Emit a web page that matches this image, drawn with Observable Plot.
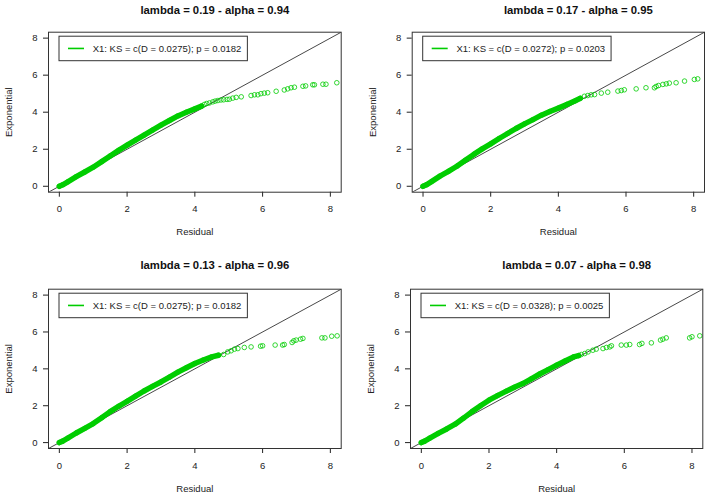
<!DOCTYPE html>
<html><head><meta charset="utf-8">
<script src="https://cdn.jsdelivr.net/npm/d3@7"></script>
<script src="https://cdn.jsdelivr.net/npm/@observablehq/plot@0.6"></script>
<style>
body{margin:0;background:#fff;}
#wrap{position:relative;width:708px;height:496px;overflow:hidden;background:#fff;}
#wrap svg{position:absolute;}
</style>
</head><body><div id="wrap"></div>
<script>
// ---- data ----
const titles = [
  "lambda = 0.19 - alpha = 0.94",
  "lambda = 0.17 - alpha = 0.95",
  "lambda = 0.13 - alpha = 0.96",
  "lambda = 0.07 - alpha = 0.98"
];
const legendLabels = [
  "X1: KS = c(D = 0.0275); p = 0.0182",
  "X1: KS = c(D = 0.0272); p = 0.0203",
  "X1: KS = c(D = 0.0275); p = 0.0182",
  "X1: KS = c(D = 0.0328); p = 0.0025"
];
const xLabel = "Residual";
const yLabel = "Exponential";
const tickValues = [0, 2, 4, 6, 8];
const abline = {intercept: 0, slope: 1};

// panel 1
const p1DenseResidual    = [0, 0.1, 0.25, 0.5, 0.75, 1, 1.25, 1.5, 1.75, 2, 2.25, 2.5, 2.75, 3, 3.25, 3.5, 3.75, 4, 4.2];
const p1DenseExponential = [0, 0.08, 0.24, 0.52, 0.77, 1.03, 1.33, 1.64, 1.94, 2.22, 2.49, 2.76, 3.03, 3.3, 3.55, 3.8, 4.0, 4.18, 4.33];
const p1TailResidual     = [4.28, 4.35, 4.43, 4.53, 4.6, 4.68, 4.77, 4.85, 4.95, 5.02, 5.12, 5.22, 5.37, 5.66, 5.76, 5.86, 5.95, 6.05, 6.15, 6.4, 6.64, 6.74, 6.84, 6.94, 7.19, 7.27, 7.48, 7.53, 7.78, 7.87, 8.19];
const p1TailExponential  = [4.42, 4.47, 4.5, 4.56, 4.6, 4.63, 4.66, 4.67, 4.69, 4.7, 4.76, 4.8, 4.83, 4.9, 4.94, 4.94, 5.0, 5.03, 5.05, 5.13, 5.2, 5.26, 5.32, 5.35, 5.4, 5.42, 5.48, 5.48, 5.51, 5.51, 5.59];
// panel 2
const p2DenseResidual    = [0, 0.1, 0.25, 0.5, 0.75, 1, 1.25, 1.5, 1.75, 2, 2.25, 2.5, 2.75, 3, 3.25, 3.5, 3.75, 4, 4.25, 4.5, 4.65];
const p2DenseExponential = [0, 0.08, 0.25, 0.55, 0.8, 1.08, 1.4, 1.72, 2.02, 2.29, 2.58, 2.85, 3.12, 3.37, 3.6, 3.84, 4.04, 4.22, 4.42, 4.62, 4.75];
const p2TailResidual     = [4.77, 4.87, 4.97, 5.07, 5.27, 5.46, 5.76, 5.86, 5.95, 6.3, 6.59, 6.84, 6.89, 6.96, 7.09, 7.19, 7.28, 7.48, 7.73, 8.02, 8.12];
const p2TailExponential  = [4.86, 4.9, 4.94, 4.95, 5.03, 5.08, 5.14, 5.17, 5.21, 5.26, 5.32, 5.32, 5.39, 5.44, 5.5, 5.53, 5.57, 5.59, 5.68, 5.77, 5.8];
// panel 3
const p3DenseResidual    = [0, 0.1, 0.25, 0.5, 0.75, 1, 1.25, 1.5, 1.75, 2, 2.25, 2.5, 2.75, 3, 3.25, 3.5, 3.75, 4, 4.25, 4.5, 4.7];
const p3DenseExponential = [0, 0.08, 0.24, 0.52, 0.77, 1.03, 1.35, 1.68, 1.97, 2.24, 2.52, 2.8, 3.05, 3.29, 3.55, 3.82, 4.06, 4.29, 4.48, 4.65, 4.74];
const p3TailResidual     = [4.85, 4.97, 5.07, 5.17, 5.27, 5.46, 5.66, 5.94, 6.0, 6.37, 6.59, 6.64, 6.87, 6.92, 6.99, 7.12, 7.19, 7.75, 7.84, 8.04, 8.2];
const p3TailExponential  = [4.78, 4.92, 4.98, 5.07, 5.1, 5.16, 5.19, 5.23, 5.25, 5.29, 5.29, 5.32, 5.43, 5.52, 5.56, 5.61, 5.65, 5.68, 5.68, 5.77, 5.79];
// panel 4
const p4DenseResidual    = [0, 0.1, 0.25, 0.5, 0.75, 1, 1.25, 1.5, 1.75, 2, 2.25, 2.5, 2.75, 3, 3.25, 3.5, 3.75, 4, 4.25, 4.5, 4.65];
const p4DenseExponential = [0, 0.08, 0.24, 0.5, 0.74, 1.0, 1.33, 1.68, 2.0, 2.3, 2.55, 2.78, 3.0, 3.2, 3.46, 3.72, 3.96, 4.2, 4.43, 4.65, 4.72];
const p4TailResidual     = [4.73, 4.83, 4.93, 5.07, 5.17, 5.37, 5.47, 5.57, 5.62, 5.91, 6.06, 6.16, 6.45, 6.52, 6.8, 7.07, 7.14, 7.24, 7.93, 8.0, 8.23];
const p4TailExponential  = [4.78, 4.83, 4.92, 5.01, 5.07, 5.1, 5.16, 5.19, 5.25, 5.29, 5.29, 5.32, 5.32, 5.38, 5.41, 5.56, 5.61, 5.68, 5.68, 5.74, 5.79];

// ---- layout ----
const green = "#00CD00";
const domain = [-0.32, 8.32];
const panels = [
  {left: 0,   top: 0,   mL: 48,   mR: 13.3, mT: 31.7, mB: 56.3, titleY: 9.5,
   dx: p1DenseResidual, dy: p1DenseExponential, tx: p1TailResidual, ty: p1TailExponential},
  {left: 354, top: 0,   mL: 57.7, mR: 4,    mT: 31.7, mB: 56.3, titleY: 9.5,
   dx: p2DenseResidual, dy: p2DenseExponential, tx: p2TailResidual, ty: p2TailExponential},
  {left: 0,   top: 248, mL: 48,   mR: 13.3, mT: 40.7, mB: 48,   titleY: 16.7,
   dx: p3DenseResidual, dy: p3DenseExponential, tx: p3TailResidual, ty: p3TailExponential},
  {left: 354, top: 248, mL: 56,   mR: 5.7,  mT: 40.7, mB: 48,   titleY: 16.7,
   dx: p4DenseResidual, dy: p4DenseExponential, tx: p4TailResidual, ty: p4TailExponential}
];

const wrap = document.getElementById("wrap");
const font = "'Liberation Sans', Arial, Helvetica, sans-serif";

panels.forEach((cfg, k) => {
  const dense = cfg.dx.map((x, i) => ({x, y: cfg.dy[i]}));
  const tail = cfg.tx.map((x, i) => ({x, y: cfg.ty[i]}));
  const diag = domain.map(v => ({x: v, y: abline.intercept + abline.slope * v}));
  const svg = Plot.plot({
    width: 354, height: 248,
    marginLeft: cfg.mL, marginRight: cfg.mR, marginTop: cfg.mT, marginBottom: cfg.mB,
    style: {fontFamily: font, fontSize: "9.5px", color: "#222", background: "transparent"},
    x: {domain, ticks: tickValues, tickSize: 5, tickPadding: 8.5, label: null},
    y: {domain, ticks: tickValues, tickSize: 5, tickPadding: 6, label: null},
    marks: [
      Plot.line(diag, {x: "x", y: "y", stroke: "#333", strokeWidth: 0.9, clip: true}),
      Plot.line(dense, {x: "x", y: "y", stroke: green, strokeWidth: 5.5, strokeLinecap: "round", strokeLinejoin: "round"}),
      Plot.dot(dense.concat(tail), {x: "x", y: "y", r: 2.3, stroke: green, strokeWidth: 0.8, fill: "none"}),
      Plot.frame({stroke: "#333", strokeWidth: 1}),
      Plot.text([titles[k]], {text: d => d, frameAnchor: "top", dx: 20, dy: cfg.titleY - cfg.mT,
        fontWeight: "bold", fontSize: 11.3, lineAnchor: "middle", fill: "#111"}),
      Plot.text([yLabel], {text: d => d, frameAnchor: "left", dx: -39.5, rotate: -90,
        textAnchor: "middle", lineAnchor: "middle"}),
      Plot.text([xLabel], {text: d => d, frameAnchor: "bottom", dy: 40, lineAnchor: "middle"})
    ]
  });
  svg.style.left = cfg.left + "px";
  svg.style.top = cfg.top + "px";
  wrap.appendChild(svg);

  // legend box (R-style)
  const lx = cfg.mL + 11, ly = cfg.mT + 4.5, lh = 24.5;
  const g = d3.select(svg).append("g").attr("text-anchor", "start");
  const rect = g.append("rect").attr("x", lx).attr("y", ly).attr("height", lh)
    .attr("fill", "white").attr("stroke", "#333").attr("stroke-width", 1);
  g.append("line").attr("x1", lx + 9).attr("x2", lx + 25).attr("y1", ly + lh / 2).attr("y2", ly + lh / 2)
    .attr("stroke", green).attr("stroke-width", 1.6);
  const t = g.append("text").attr("x", lx + 33.7).attr("y", ly + lh / 2).attr("dy", "0.35em")
    .attr("text-anchor", "start")
    .attr("font-family", font).attr("font-size", 9.5).attr("fill", "#222").text(legendLabels[k]);
  const len = t.node().getComputedTextLength();
  rect.attr("width", 33.7 + len + 6);
});
</script>
</body></html>
